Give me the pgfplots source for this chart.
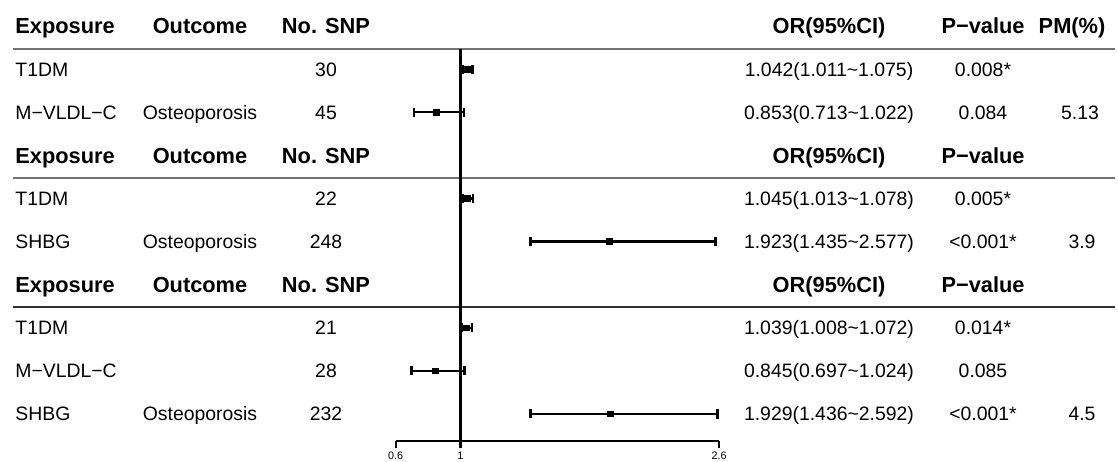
\documentclass[border=0pt]{standalone}
\usepackage{fontspec}
\setmainfont{Liberation Sans}
\usepackage{pgfplots}
\usepackage{pgfplotstable}
\pgfplotsset{compat=1.18}
\pgfplotstableread{
y or lo hi
-1 1.042 1.011 1.075
-2 0.853 0.713 1.022
-4 1.045 1.013 1.078
-5 1.923 1.435 2.577
-7 1.039 1.008 1.072
-8 0.845 0.697 1.024
-9 1.929 1.436 2.592
}\forestdata
\newcommand\hd{\fontsize{10.9}{12}\bfseries\selectfont}
\newcommand\bd{\fontsize{9.7}{11}\selectfont}
\newcommand\tl{\textasciitilde}
\begin{document}
\begin{tikzpicture}[x=0.5pt,y=-0.5pt,
  hl/.style={anchor=base west,font=\hd,inner sep=0pt},
  hc/.style={anchor=base,font=\hd,inner sep=0pt},
  bl/.style={anchor=base west,font=\bd,inner sep=0pt},
  bc/.style={anchor=base,font=\bd,inner sep=0pt}]
\useasboundingbox (0,0) rectangle (1118,461);
\coordinate (A) at (395.7,441);
% separator lines
\draw[black!55,line width=1pt] (13,48.5) -- (1115,48.5);
\draw[black!55,line width=1pt] (13,177.8) -- (1115,177.8);
\draw[black!80,line width=0.7pt] (13,307) -- (1115,307);
% headers
\foreach \yb in {33.8,163.1,292.4}{
  \node[hl] at (15,\yb) {Exposure};
  \node[hc] at (200,\yb) {Outcome};
  \node[hc] at (326,\yb) {No. SNP};
  \node[hc] at (829,\yb) {OR(95\%CI)};
  \node[hc] at (983,\yb) {P−value};
}
\node[hc] at (1072,33.8) {PM(\%)};
% block 1
\node[bl] at (15,76.1) {T1DM};
\node[bc] at (326,76.1) {30};
\node[bc] at (829,76.1) {1.042(1.011\tl1.075)};
\node[bc] at (983,76.1) {0.008*};
\node[bl] at (15,119.2) {M−VLDL−C};
\node[bc] at (200,119.2) {Osteoporosis};
\node[bc] at (326,119.2) {45};
\node[bc] at (829,119.2) {0.853(0.713\tl1.022)};
\node[bc] at (983,119.2) {0.084};
\node[bc] at (1080,119.2) {5.13};
% block 2
\node[bl] at (15,205.4) {T1DM};
\node[bc] at (326,205.4) {22};
\node[bc] at (829,205.4) {1.045(1.013\tl1.078)};
\node[bc] at (983,205.4) {0.005*};
\node[bl] at (15,248.5) {SHBG};
\node[bc] at (200,248.5) {Osteoporosis};
\node[bc] at (326,248.5) {248};
\node[bc] at (829,248.5) {1.923(1.435\tl2.577)};
\node[bc] at (983,248.5) {<0.001*};
\node[bc] at (1082,248.5) {3.9};
% block 3
\node[bl] at (15,334.7) {T1DM};
\node[bc] at (326,334.7) {21};
\node[bc] at (829,334.7) {1.039(1.008\tl1.072)};
\node[bc] at (983,334.7) {0.014*};
\node[bl] at (15,377.8) {M−VLDL−C};
\node[bc] at (326,377.8) {28};
\node[bc] at (829,377.8) {0.845(0.697\tl1.024)};
\node[bc] at (983,377.8) {0.085};
\node[bl] at (15,420.9) {SHBG};
\node[bc] at (200,420.9) {Osteoporosis};
\node[bc] at (326,420.9) {232};
\node[bc] at (829,420.9) {1.929(1.436\tl2.592)};
\node[bc] at (983,420.9) {<0.001*};
\node[bc] at (1082,420.9) {4.5};
% forest plot
\begin{axis}[at={(A)},anchor=south west,scale only axis,
  width=161.65pt,height=196pt,
  xmin=0.6,xmax=2.6,ymin=-9.629,ymax=-0.5336,
  axis x line=bottom,axis y line=none,
  axis line style={-,line width=1.3pt,black},
  x axis line style={-,line width=1.3pt,black},
  every outer x axis line/.append style={-,line width=1.3pt,black},
  xtick={0.6,1,2.6},xticklabels={0.6,1,2.6},
  tick align=outside,major tick length=3.5pt,
  every tick/.append style={line width=1.2pt,black},
  xtick style={line width=1.2pt,black},
  xticklabel style={font=\fontsize{5.4}{6}\selectfont,inner sep=1pt,yshift=-1pt},
  clip=false]
\addplot[black,line width=1.3pt] coordinates {(1,-0.5336) (1,-9.629)};
\addplot[black,only marks,mark=square*,mark size=1.4pt,
  error bars/.cd,x dir=both,x explicit,
  error bar style={line width=1.2pt,black},
  error mark options={rotate=90,mark size=2.3pt,line width=1.4pt,black}]
  table[x=or,y=y,
    x error plus expr=\thisrow{hi}-\thisrow{or},
    x error minus expr=\thisrow{or}-\thisrow{lo}] {\forestdata};
\end{axis}
\end{tikzpicture}
\end{document}
